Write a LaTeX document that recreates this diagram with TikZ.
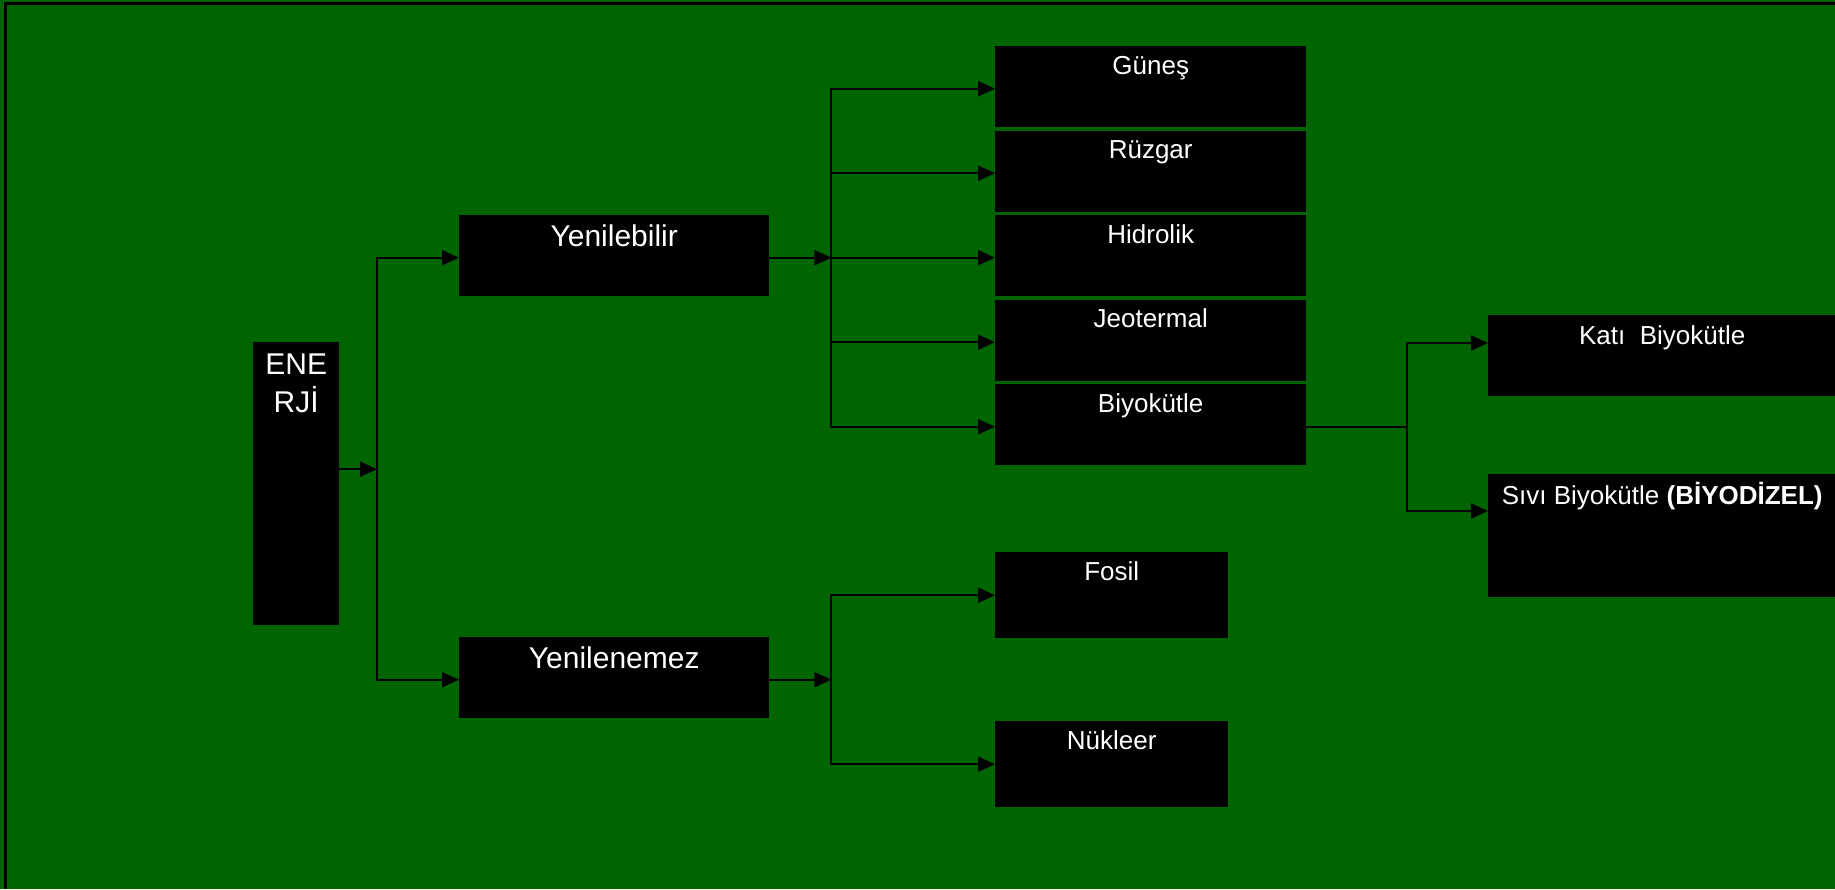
\documentclass[tikz,border=0pt]{standalone}
\usepackage{fontspec}
\setmainfont{Liberation Sans}
\usetikzlibrary{arrows.meta,calc}
\definecolor{field}{RGB}{0,100,0}
\begin{document}
\begin{tikzpicture}[x=1pt,y=-1pt,
  box/.style={fill=black, draw=none, inner sep=0pt, anchor=north west},
  bigtext/.style={text=white, inner sep=0pt, anchor=base, font=\fontsize{30}{38}\selectfont},
  smalltext/.style={text=white, inner sep=0pt, anchor=base, font=\fontsize{26}{31}\selectfont},
  wire/.style={line width=2pt, draw=black},
  arrow/.style={wire, -{Triangle[length=17pt,width=15pt]}}]
% background and frame
\fill[field] (0,0) rectangle (1835,889);
\useasboundingbox (0,0) rectangle (1835,889);
\draw[line width=2.5pt] (5.5,889) -- (5.5,3.5) -- (1835,3.5);

% root
\node[box, minimum width=86pt, minimum height=283pt] (enerji) at (253,342) {};
\node[bigtext, align=center, anchor=north] (enerji-t) at ([yshift=-12pt]enerji.north) {ENE\\RJİ};

% first level
\node[box, minimum width=310pt, minimum height=81pt] (yen) at (459,215) {};
\node[bigtext] (yen-t) at ([yshift=-31pt]yen.north) {Yenilebilir};
\node[box, minimum width=310pt, minimum height=81pt] (yenz) at (459,637) {};
\node[bigtext] (yenz-t) at ([yshift=-31pt]yenz.north) {Yenilenemez};

% renewable sources
\node[box, minimum width=311pt, minimum height=81pt] (gunes) at (995,46) {};
\node[smalltext] (gunes-t) at ([yshift=-28pt]gunes.north) {Güneş};
\node[box, minimum width=311pt, minimum height=81pt] (ruzgar) at (995,130.5) {};
\node[smalltext] (ruzgar-t) at ([yshift=-28pt]ruzgar.north) {Rüzgar};
\node[box, minimum width=311pt, minimum height=81pt] (hidrolik) at (995,215) {};
\node[smalltext] (hidrolik-t) at ([yshift=-28pt]hidrolik.north) {Hidrolik};
\node[box, minimum width=311pt, minimum height=81pt] (jeo) at (995,299.5) {};
\node[smalltext] (jeo-t) at ([yshift=-28pt]jeo.north) {Jeotermal};
\node[box, minimum width=311pt, minimum height=81pt] (biyo) at (995,384) {};
\node[smalltext] (biyo-t) at ([yshift=-28pt]biyo.north) {Biyokütle};

% non-renewable sources
\node[box, minimum width=233pt, minimum height=86pt] (fosil) at (995,552) {};
\node[smalltext] (fosil-t) at ([yshift=-28pt]fosil.north) {Fosil};
\node[box, minimum width=233pt, minimum height=86pt] (nukleer) at (995,721) {};
\node[smalltext] (nukleer-t) at ([yshift=-28pt]nukleer.north) {Nükleer};

% biomass kinds
\node[box, minimum width=348pt, minimum height=81pt] (kati) at (1488,315) {};
\node[smalltext] (kati-t) at ([yshift=-29pt]kati.north) {Katı\ \ Biyokütle};
\node[box, minimum width=348pt, minimum height=123pt] (sivi) at (1488,474) {};
\node[smalltext] (sivi-t) at ([yshift=-30pt]sivi.north) {Sıvı Biyokütle \textbf{(BİYODİZEL)}};

% junctions (wires sit slightly below the box middles)
\coordinate (j1) at ($(yen.west)!.5!(yenz.west)+(-82,2.5)$);
\coordinate (j2) at ($(yen.east)+(62,2)$);
\coordinate (j3) at ($(yenz.east)+(62,2)$);
\coordinate (j4) at ($(biyo.east)+(101,2.5)$);

% connectors
\draw[arrow] (enerji.east |- j1) -- (j1);
\draw[arrow] (j1) |- ([yshift=-2pt]yen.west);
\draw[arrow] (j1) |- ([yshift=-2pt]yenz.west);

\draw[arrow] ([yshift=-2pt]yen.east) -- (j2);
\foreach \t in {gunes,ruzgar,hidrolik,jeo,biyo}
  \draw[arrow] (j2) |- ([yshift=-2pt]\t.west);

\draw[arrow] ([yshift=-2pt]yenz.east) -- (j3);
\draw[arrow] (j3) |- (fosil.west);
\draw[arrow] (j3) |- (nukleer.west);

\draw[wire] ([yshift=-2.5pt]biyo.east) -- (j4);
\draw[arrow] (j4) |- ([yshift=-28pt]kati.north west);
\draw[arrow] (j4) |- ([yshift=-37pt]sivi.north west);
\end{tikzpicture}
\end{document}
